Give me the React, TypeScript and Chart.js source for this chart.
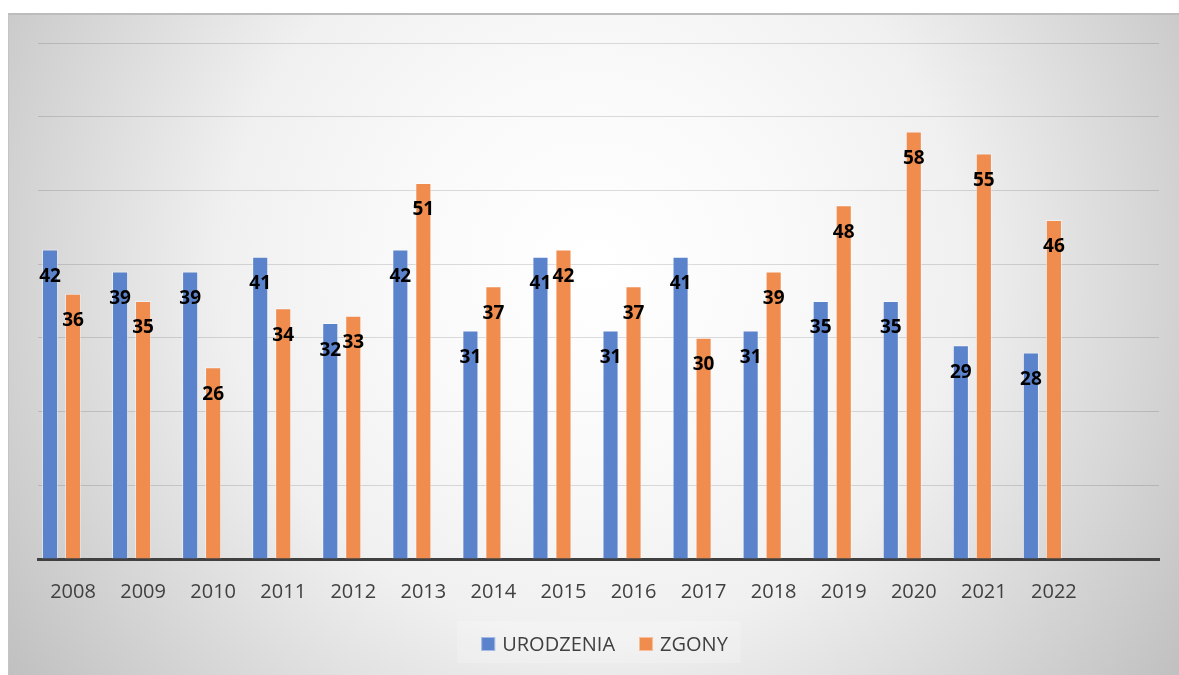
import React, { useEffect, useRef } from "react";
import { Chart, registerables } from "chart.js";

Chart.register(...registerables);

// ---- data ----
const categories = ["2008", "2009", "2010", "2011", "2012", "2013", "2014", "2015", "2016", "2017", "2018", "2019", "2020", "2021", "2022", ""];
const urodzenia = [42, 39, 39, 41, 32, 42, 31, 41, 31, 41, 31, 35, 35, 29, 28];
const zgony = [36, 35, 26, 34, 33, 51, 37, 42, 37, 30, 39, 48, 58, 55, 46];
const placeholder: (number | null)[] = [];
const seriesNames = ["URODZENIA", "ZGONY"];
const yMin = 0;
const yMax = 70;
const yStep = 10;

const BLUE = "#5B83CC";
const ORANGE = "#EF8C4E";
const TEXT = "#404040";
const FONT = '"Open Sans", "DejaVu Sans", sans-serif';

const valueLabels = {
  id: "valueLabels",
  afterDatasetsDraw(chart: any) {
    const ctx = chart.ctx;
    ctx.save();
    ctx.font = `bold 19px ${FONT}`;
    ctx.fillStyle = "#000000";
    ctx.textAlign = "center";
    ctx.textBaseline = "middle";
    [0, 1].forEach((di) => {
      const meta = chart.getDatasetMeta(di);
      const ds = chart.data.datasets[di];
      meta.data.forEach((el: any, i: number) => {
        const v = ds.data[i];
        if (v === null || v === undefined) return;
        ctx.fillText(String(v), el.x, el.y + 27);
      });
    });
    ctx.restore();
  },
};

const customLegend = {
  id: "customLegend",
  afterDraw(chart: any) {
    const ctx = chart.ctx;
    const colors = [BLUE, ORANGE];
    const box = 14;
    const gapText = 7;
    const gapItems = 24;
    ctx.save();
    ctx.font = `20px ${FONT}`;
    const widths = seriesNames.map((n) => ctx.measureText(n).width);
    let total = 0;
    widths.forEach((w, i) => {
      total += box + gapText + w + (i < widths.length - 1 ? gapItems : 0);
    });
    const cx = chart.width / 2 + 11;
    const cy = 631;
    let x = cx - total / 2;
    // subtle backdrop
    ctx.fillStyle = "rgba(255,255,255,0.2)";
    ctx.fillRect(x - 24, cy - 23, total + 37, 42);
    ctx.textAlign = "left";
    ctx.textBaseline = "middle";
    seriesNames.forEach((name, i) => {
      ctx.fillStyle = colors[i];
      ctx.fillRect(x, cy - box / 2, box, box);
      ctx.strokeStyle = "rgba(255,255,255,0.45)";
      ctx.lineWidth = 1;
      ctx.strokeRect(x + 0.5, cy - box / 2 + 0.5, box - 1, box - 1);
      ctx.fillStyle = TEXT;
      ctx.fillText(name, x + box + gapText, cy + 1);
      x += box + gapText + widths[i] + gapItems;
    });
    ctx.restore();
  },
};

export default function App() {
  const canvasRef = useRef<HTMLCanvasElement | null>(null);

  useEffect(() => {
    if (!canvasRef.current) return;
    const chart = new Chart(canvasRef.current, {
      type: "bar",
      data: {
        labels: categories,
        datasets: [
          {
            label: seriesNames[0],
            data: urodzenia,
            backgroundColor: BLUE,
            borderColor: "rgba(255,255,255,0.45)",
            borderWidth: 1,
          },
          {
            label: seriesNames[1],
            data: zgony,
            backgroundColor: ORANGE,
            borderColor: "rgba(255,255,255,0.45)",
            borderWidth: 1,
          },
          {
            label: "",
            data: placeholder,
            backgroundColor: "rgba(0,0,0,0)",
          },
        ],
      },
      options: {
        responsive: false,
        animation: false,
        datasets: {
          bar: {
            categoryPercentage: 0.985,
            barPercentage: 0.7,
          },
        },
        layout: { padding: { left: 30, right: 20, top: 30, bottom: 0 } },
        plugins: {
          legend: { display: false },
          tooltip: { enabled: false },
        },
        scales: {
          x: {
            grid: { display: false, drawTicks: false },
            border: { display: true, color: "#404040", width: 3 },
            ticks: {
              color: TEXT,
              font: { family: FONT, size: 20 },
              padding: 21,
              maxRotation: 0,
              autoSkip: false,
            },
            afterFit: (scale: any) => {
              scale.height = 116;
            },
          },
          y: {
            min: yMin,
            max: yMax,
            ticks: { display: false, stepSize: yStep },
            grid: { color: "rgba(0,0,0,0.13)", lineWidth: 1, drawTicks: false },
            border: { display: false },
            afterFit: (scale: any) => {
              scale.width = 0;
            },
          },
        },
      },
      plugins: [valueLabels, customLegend],
    });
    return () => chart.destroy();
  }, []);

  return (
    <div
      style={{
        position: "fixed",
        left: 8,
        top: 13,
        width: 1171,
        height: 662,
        boxSizing: "border-box",
        borderTop: "2px solid #bcbcbc",
        borderLeft: "1px solid #c4c4c4",
        background:
          "radial-gradient(circle farthest-corner at 50% 38%, #ffffff 0%, #f9f9f9 28%, #f0f0f0 52%, #d6d6d6 78%, #c0c0c0 100%)",
      }}
    >
      <canvas
        ref={canvasRef}
        width={1171}
        height={662}
        style={{ position: "absolute", left: -1, top: -2, display: "block" }}
      />
    </div>
  );
}
